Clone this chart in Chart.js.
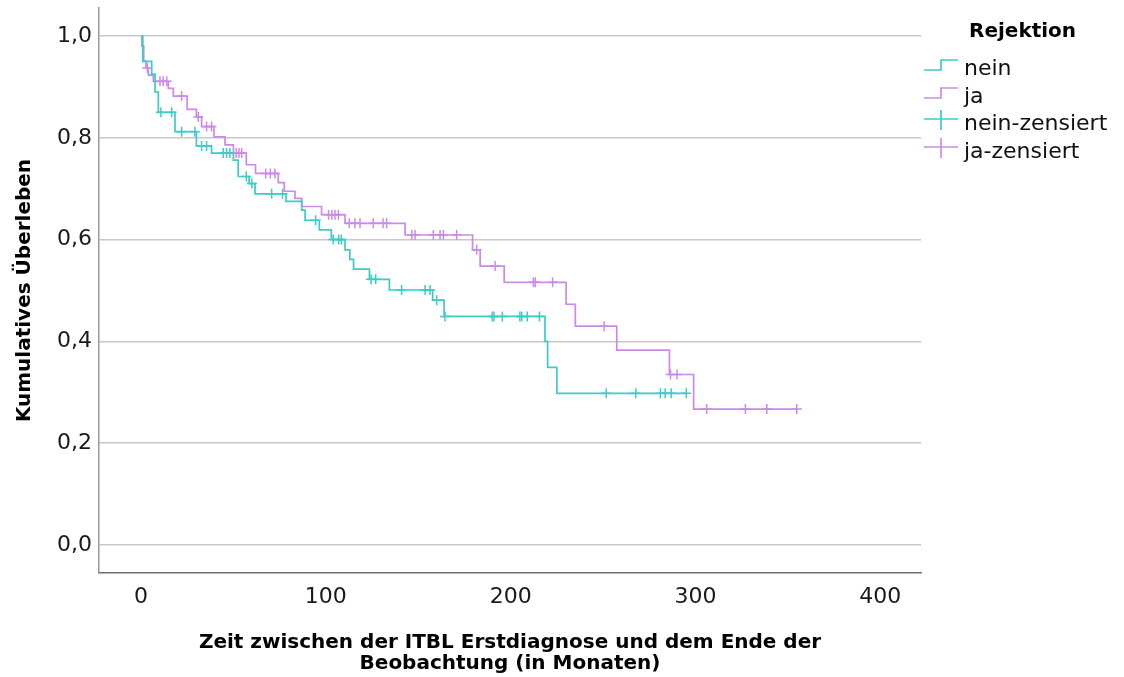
<!DOCTYPE html>
<html>
<head>
<meta charset="utf-8">
<script src="https://cdn.jsdelivr.net/npm/chart.js@4.4.1/dist/chart.umd.min.js"></script>
<style>
  html, body { margin: 0; padding: 0; background: #fff; }
  #wrap { position: relative; width: 1124px; height: 677px; }
  #legend { position: absolute; left: 0; top: 0; pointer-events: none; }
</style>
</head>
<body>
<div id="wrap">
  <canvas id="kmChart" width="1124" height="677"></canvas>
  <svg id="legend" width="1124" height="677" xmlns="http://www.w3.org/2000/svg"></svg>
</div>
<script>
(() => {
  // --- Daten ---
  const xTicks = [0, 100, 200, 300, 400];
  const yTicks = [0, 0.2, 0.4, 0.6, 0.8, 1.0];

  // Gruppe "nein": Ereigniszeiten und Überleben nach dem Ereignis
  const neinZeit = [0, 1, 5.8, 7.6, 9.4, 18.4, 30, 38.2, 50, 52.6, 58.5, 61.7, 78.5, 87, 88.8, 96.5, 103, 110.4, 113, 115, 123.6, 134.4, 157.8, 164, 218.6, 220, 225, 295];
  const neinUeberleben = [1, 0.95, 0.925, 0.89, 0.85, 0.812, 0.784, 0.77, 0.756, 0.724, 0.71, 0.69, 0.675, 0.658, 0.638, 0.619, 0.6, 0.58, 0.561, 0.542, 0.522, 0.501, 0.481, 0.449, 0.40, 0.349, 0.298, 0.298];
  const neinZensiert = [10.8, 16.6, 22, 29.2, 32.8, 35.5, 44.5, 46.3, 48.1, 57, 60, 70.7, 76.6, 94.5, 104, 107, 108.4, 124.5, 127, 141, 153.7, 156.4, 160, 164.5, 190, 191, 195.5, 205, 206, 209, 215.6, 251.7, 267.7, 281, 283.6, 286.9, 295];

  // Gruppe "ja"
  const jaZeit = [0, 0.5, 1.5, 2.7, 4, 6.7, 14.8, 17.5, 25, 30, 32.8, 39.5, 45.5, 50, 57, 62, 74.3, 77.5, 83.3, 87, 97.7, 110.4, 142.9, 179.4, 183.5, 196.5, 230, 235, 257.4, 285.9, 299, 354.8];
  const jaUeberleben = [1, 0.98, 0.95, 0.937, 0.923, 0.911, 0.897, 0.882, 0.856, 0.841, 0.822, 0.802, 0.786, 0.77, 0.747, 0.73, 0.712, 0.695, 0.681, 0.665, 0.649, 0.632, 0.609, 0.58, 0.548, 0.516, 0.473, 0.43, 0.383, 0.335, 0.267, 0.267];
  const jaZensiert = [3.5, 10.3, 12, 14, 22, 31, 35.5, 38.2, 51.5, 53, 54.5, 67.5, 70, 72.5, 101.5, 103.3, 105, 106.8, 112.7, 115.8, 118.5, 125.7, 131, 132.9, 146.5, 148.3, 158.2, 161.8, 163.6, 170.8, 181.6, 191.6, 212.3, 213.3, 222.7, 250.6, 286.5, 290, 306, 327, 338.6, 354.8];

  const legendTitel = "Rejektion";
  const legendLabels = ["nein", "ja", "nein-zensiert", "ja-zensiert"];

  const farbeNein = "#3CCBC9";
  const farbeJa = "#CB8AE9";
  const schrift = "'DejaVu Sans', sans-serif";

  // --- Hilfsfunktionen ---
  const zuPunkten = (zeiten, werte) => zeiten.map((t, i) => ({ x: t, y: werte[i] }));

  // Überleben zum Zeitpunkt t (Treppenfunktion)
  const ueberlebenBei = (zeiten, werte, t) => {
    let v = werte[0];
    for (let i = 0; i < zeiten.length; i++) {
      if (zeiten[i] <= t) v = werte[i];
    }
    return v;
  };
  const zensiertPunkte = (zens, zeiten, werte) => zens.map(t => ({ x: t, y: ueberlebenBei(zeiten, werte, t) }));

  const formatKomma = (v) => Number(v).toFixed(1).replace(".", ",");

  // --- Diagramm ---
  Chart.defaults.font.family = schrift;
  Chart.defaults.color = "#1a1a1a";

  const ctx = document.getElementById("kmChart").getContext("2d");
  new Chart(ctx, {
    type: "scatter",
    data: {
      datasets: [
        { label: legendLabels[0], data: zuPunkten(neinZeit, neinUeberleben), showLine: true, stepped: true,
          borderColor: farbeNein, borderWidth: 1.7, pointRadius: 0 },
        { label: legendLabels[1], data: zuPunkten(jaZeit, jaUeberleben), showLine: true, stepped: true,
          borderColor: farbeJa, borderWidth: 1.7, pointRadius: 0 },
        { label: legendLabels[2], data: zensiertPunkte(neinZensiert, neinZeit, neinUeberleben), showLine: false,
          pointStyle: "cross", pointRadius: 5, borderColor: farbeNein, borderWidth: 1.5 },
        { label: legendLabels[3], data: zensiertPunkte(jaZensiert, jaZeit, jaUeberleben), showLine: false,
          pointStyle: "cross", pointRadius: 5, borderColor: farbeJa, borderWidth: 1.5 }
      ]
    },
    options: {
      responsive: false,
      animation: false,
      devicePixelRatio: 1,
      layout: { padding: { top: 8, right: 203, left: 0, bottom: 0 } },
      plugins: { legend: { display: false }, tooltip: { enabled: false } },
      scales: {
        x: {
          type: "linear",
          min: -22.7,
          max: 422,
          afterBuildTicks: (s) => { s.ticks = xTicks.map(v => ({ value: v })); },
          afterFit: (s) => { s.height = 104; s.paddingLeft = 0; s.paddingRight = 0; },
          grid: { display: false, drawTicks: false },
          border: { display: true, color: "#6e6e6e", width: 1.5 },
          ticks: { font: { size: 22 }, padding: 11, color: "#1a1a1a" },
          title: {
            display: true,
            text: ["Zeit zwischen der ITBL Erstdiagnose und dem Ende der", "Beobachtung (in Monaten)"],
            font: { size: 20, weight: "bold", lineHeight: 1.05 },
            padding: { top: 0, bottom: 2.5 },
            color: "#000"
          }
        },
        y: {
          min: -0.055,
          max: 1.055,
          afterBuildTicks: (s) => { s.ticks = yTicks.map(v => ({ value: v })); },
          afterFit: (s) => { s.width = 99; s.paddingTop = 0; s.paddingBottom = 0; },
          grid: { color: "#c8c8c8", lineWidth: 1.5, drawTicks: false },
          border: { display: true, color: "#999", width: 1.5 },
          ticks: { font: { size: 22 }, padding: 7, color: "#1a1a1a", callback: (v) => formatKomma(v) },
          title: {
            display: true,
            text: "Kumulatives Überleben",
            font: { size: 20, weight: "bold" },
            padding: { top: 13, bottom: 0 },
            color: "#000"
          }
        }
      }
    }
  });

  // --- Legende (SVG, echte Texte) ---
  const svg = document.getElementById("legend");
  const ns = "http://www.w3.org/2000/svg";
  const farben = [farbeNein, farbeJa, farbeNein, farbeJa];
  const grundlinien = [75, 103, 130, 158];

  const titel = document.createElementNS(ns, "text");
  titel.setAttribute("x", 969);
  titel.setAttribute("y", 37);
  titel.setAttribute("font-family", "DejaVu Sans");
  titel.setAttribute("font-size", 20);
  titel.setAttribute("font-weight", "bold");
  titel.setAttribute("fill", "#000");
  titel.textContent = legendTitel;
  svg.appendChild(titel);

  legendLabels.forEach((lab, i) => {
    const b = grundlinien[i];
    const pfad = document.createElementNS(ns, "path");
    const d = i < 2
      ? `M924 ${b - 5} H941 V${b - 15} H958`
      : `M924 ${b - 11} H958 M941 ${b - 20} V${b}`;
    pfad.setAttribute("d", d);
    pfad.setAttribute("stroke", farben[i]);
    pfad.setAttribute("stroke-width", 1.7);
    pfad.setAttribute("fill", "none");
    svg.appendChild(pfad);

    const txt = document.createElementNS(ns, "text");
    txt.setAttribute("x", 964);
    txt.setAttribute("y", b);
    txt.setAttribute("font-family", "DejaVu Sans");
    txt.setAttribute("font-size", 22);
    txt.setAttribute("fill", "#111");
    txt.textContent = lab;
    svg.appendChild(txt);
  });
})();
</script>
</body>
</html>
